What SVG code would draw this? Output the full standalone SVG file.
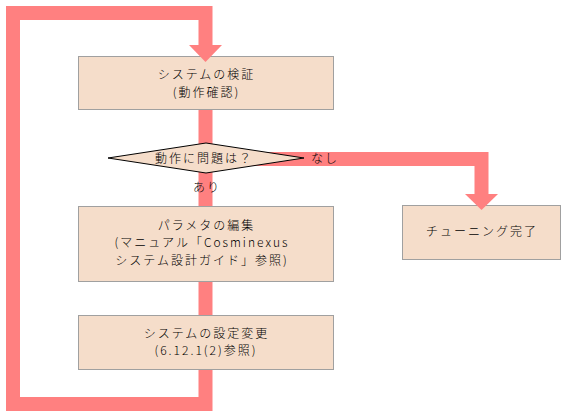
<svg xmlns="http://www.w3.org/2000/svg" width="564" height="416" viewBox="0 0 564 416">
<style>
.box{fill:#F5DDCA;stroke:#A0A0A0;stroke-width:1}
.dia{fill:#F5DDCA;stroke:#000;stroke-width:1}
.ln{fill:none;stroke:#FF8080;stroke-width:14;stroke-linejoin:miter}
.ah{fill:#FF8080}
text{font-family:"Noto Sans CJK JP","Noto Sans",sans-serif;font-size:12px;font-weight:300;letter-spacing:2px;fill:#000;text-anchor:middle}
</style>
<rect width="564" height="416" fill="#fff"/>
<g id="verify"><rect class="box" x="78.5" y="56.5" width="255" height="53"/><text x="206.5" y="79">システムの検証</text><text x="206.5" y="96.5">(動作確認)</text></g>
<g id="edit-params"><rect class="box" x="78.5" y="206.5" width="255" height="75"/><text x="206.5" y="229.5">パラメタの編集</text><text x="202" y="247">(マニュアル「Cosminexus</text><text x="202" y="264.5">システム設計ガイド」参照)</text></g>
<g id="change-settings"><rect class="box" x="78.5" y="315.5" width="255" height="54"/><text x="206.5" y="337.5">システムの設定変更</text><text x="206" y="355">(6.12.1(2)参照)</text></g>
<g id="tuning-done"><rect class="box" x="402.5" y="205.5" width="158" height="54"/><text x="482" y="235.5">チューニング完了</text></g>
<g id="connectors">
<path class="ln" d="M205.5,370 V404 H13 V13 H205.5 V46"/>
<polygon class="ah" points="189,45 222,45 205.5,62"/>
<path class="ln" d="M205.5,110 V206"/>
<path class="ln" d="M205.5,282 V315"/>
<path class="ln" d="M205.5,159 H481.5 V195"/>
<polygon class="ah" points="465,194 498,194 481.5,210"/>
<text x="207" y="191.5">あり</text>
<text x="325" y="162.5">なし</text>
</g>
<g id="decision"><polygon class="dia" points="108,158 206,143 304,158 206,173"/><text x="204" y="162.5">動作に問題は？</text></g>
</svg>
